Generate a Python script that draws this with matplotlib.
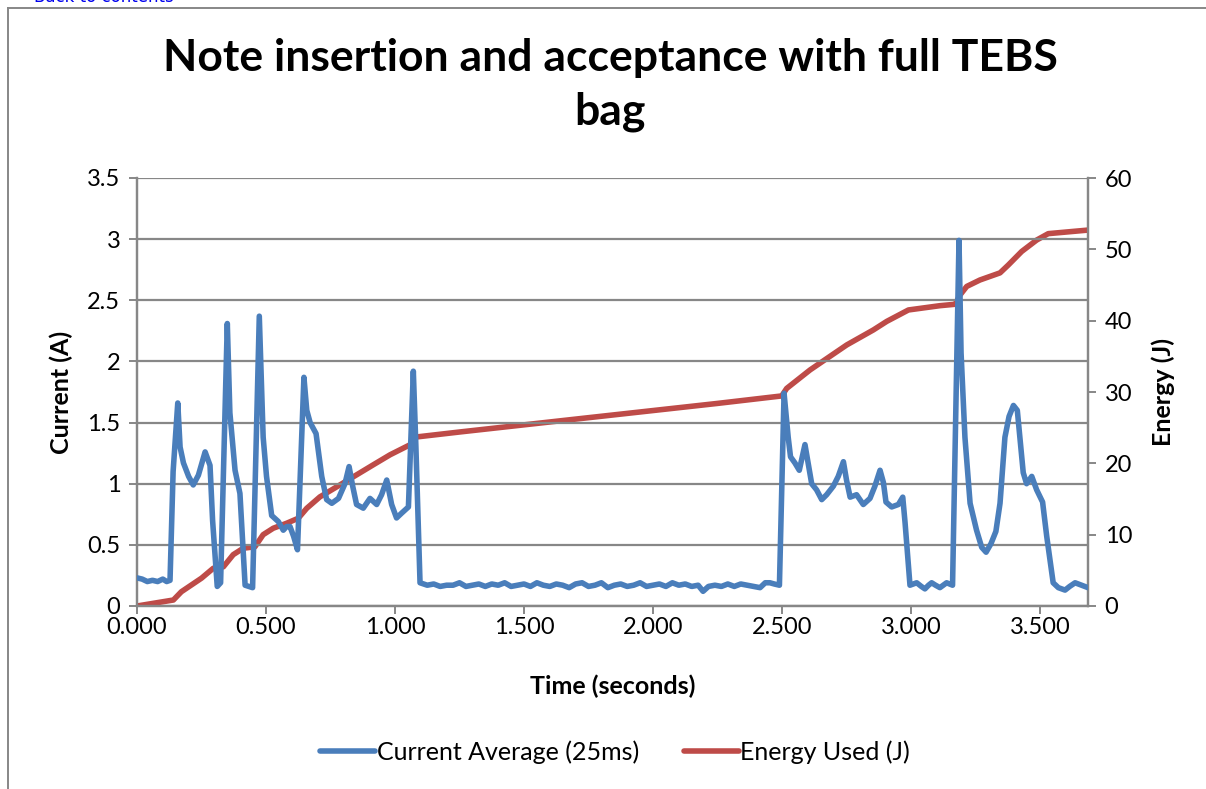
import numpy as np
import matplotlib
matplotlib.use("Agg")
import matplotlib.pyplot as plt
from matplotlib.ticker import MultipleLocator, FormatStrFormatter

plt.rcParams['font.family'] = ['Lato', 'DejaVu Sans']

TITLE = "Note insertion and acceptance with full TEBS\nbag"

# current average (25ms)
cur_t = [0.000, 0.020, 0.040, 0.060, 0.080, 0.100, 0.115, 0.128, 0.140, 0.158, 0.167, 0.180,
         0.200, 0.218, 0.238, 0.264, 0.283, 0.293, 0.311, 0.324, 0.350, 0.360, 0.380, 0.399,
         0.419, 0.448, 0.474, 0.489, 0.502, 0.522, 0.548, 0.567, 0.580, 0.593, 0.607, 0.622,
         0.647, 0.658, 0.671, 0.694, 0.716, 0.735, 0.755, 0.781, 0.806, 0.822, 0.836, 0.851,
         0.877, 0.903, 0.929, 0.948, 0.968, 0.987, 1.006, 1.026, 1.052, 1.071, 1.081, 1.097,
         1.125, 1.150, 1.175, 1.200, 1.225, 1.250, 1.275, 1.300, 1.325, 1.350, 1.375, 1.400,
         1.425, 1.450, 1.475, 1.500, 1.525, 1.550, 1.575, 1.600, 1.625, 1.650, 1.675, 1.700,
         1.725, 1.750, 1.775, 1.800, 1.825, 1.850, 1.875, 1.900, 1.925, 1.950, 1.975, 2.000,
         2.025, 2.050, 2.075, 2.100, 2.125, 2.150, 2.175, 2.194, 2.215, 2.240, 2.265, 2.290,
         2.315, 2.340, 2.365, 2.390, 2.415, 2.435, 2.453, 2.470, 2.490, 2.508, 2.524, 2.533,
         2.550, 2.567, 2.589, 2.606, 2.615, 2.634, 2.654, 2.673, 2.699, 2.718, 2.738, 2.750,
         2.764, 2.789, 2.815, 2.841, 2.860, 2.880, 2.893, 2.903, 2.925, 2.951, 2.968, 2.977,
         2.996, 3.022, 3.040, 3.054, 3.068, 3.080, 3.095, 3.112, 3.138, 3.161, 3.186, 3.194,
         3.209, 3.229, 3.254, 3.274, 3.291, 3.310, 3.329, 3.345, 3.364, 3.380, 3.397, 3.412,
         3.422, 3.435, 3.448, 3.468, 3.487, 3.510, 3.526, 3.551, 3.571, 3.597, 3.615, 3.636,
         3.661, 3.686]
cur_a = [0.23, 0.22, 0.20, 0.21, 0.20, 0.22, 0.20, 0.21, 1.10, 1.66, 1.30, 1.17,
         1.06, 0.99, 1.07, 1.26, 1.15, 0.70, 0.16, 0.19, 2.31, 1.58, 1.11, 0.92,
         0.17, 0.15, 2.37, 1.38, 1.06, 0.74, 0.69, 0.62, 0.65, 0.65, 0.57, 0.46,
         1.87, 1.60, 1.50, 1.41, 1.06, 0.87, 0.84, 0.88, 1.00, 1.14, 0.98, 0.83,
         0.80, 0.88, 0.83, 0.91, 1.03, 0.83, 0.72, 0.76, 0.81, 1.92, 1.30, 0.19,
         0.17, 0.18, 0.16, 0.17, 0.17, 0.19, 0.16, 0.17, 0.18, 0.16, 0.18, 0.17,
         0.19, 0.16, 0.17, 0.18, 0.16, 0.19, 0.17, 0.16, 0.18, 0.17, 0.15, 0.18,
         0.19, 0.16, 0.17, 0.19, 0.15, 0.17, 0.18, 0.16, 0.17, 0.19, 0.16, 0.17,
         0.18, 0.16, 0.19, 0.17, 0.18, 0.16, 0.17, 0.12, 0.16, 0.17, 0.16, 0.18,
         0.16, 0.18, 0.17, 0.16, 0.15, 0.19, 0.19, 0.18, 0.17, 1.74, 1.38, 1.22,
         1.17, 1.11, 1.32, 1.11, 1.00, 0.95, 0.87, 0.91, 0.98, 1.06, 1.18, 1.03,
         0.89, 0.91, 0.83, 0.88, 0.98, 1.11, 1.01, 0.85, 0.81, 0.83, 0.89, 0.68,
         0.17, 0.19, 0.16, 0.14, 0.17, 0.19, 0.17, 0.15, 0.19, 0.17, 2.99, 2.07,
         1.38, 0.84, 0.62, 0.48, 0.44, 0.51, 0.61, 0.84, 1.38, 1.55, 1.64, 1.60,
         1.38, 1.09, 1.00, 1.06, 0.95, 0.85, 0.57, 0.19, 0.15, 0.13, 0.16, 0.19,
         0.17, 0.15]

# energy used (J)
en_t = [0.000, 0.141, 0.172, 0.250, 0.296, 0.335, 0.373, 0.412, 0.457, 0.489, 0.528, 0.580,
        0.625, 0.658, 0.709, 0.774, 0.838, 0.916, 0.981, 1.058, 1.084, 1.252, 1.750, 2.250,
        2.499, 2.518, 2.609, 2.686, 2.751, 2.854, 2.906, 2.990, 3.112, 3.171, 3.190, 3.216,
        3.267, 3.345, 3.377, 3.429, 3.487, 3.532, 3.686]
en_j = [0.0, 0.84, 2.0, 3.9, 5.3, 5.5, 7.2, 8.1, 8.3, 10.0, 10.9, 11.6,
        12.3, 13.7, 15.3, 16.7, 18.1, 19.8, 21.2, 22.6, 23.7, 24.4, 26.4, 28.4,
        29.45, 30.5, 33.1, 35.0, 36.6, 38.7, 39.9, 41.5, 42.1, 42.3, 43.6, 44.8,
        45.7, 46.7, 47.8, 49.7, 51.3, 52.2, 52.7]

BLUE = "#4A7EBB"
RED = "#BE4B48"
GRID = "#878787"

fig = plt.figure(figsize=(12.06, 7.89), dpi=100)
ax = fig.add_axes([137 / 1206, 1 - 606 / 789, (1088 - 137) / 1206, (606 - 178) / 789])
ax2 = ax.twinx()

l1, = ax.plot(cur_t, cur_a, color=BLUE, lw=4.0, solid_joinstyle="round", solid_capstyle="round",
              label="Current Average (25ms)", zorder=3)
l2, = ax2.plot(en_t, en_j, color=RED, lw=4.0, solid_joinstyle="round", solid_capstyle="round",
               label="Energy Used (J)", zorder=3)
ax.set_zorder(ax2.get_zorder() + 1)
ax.patch.set_visible(False)

ax.set_xlim(0, 3.686)
ax.set_ylim(0, 3.5)
ax2.set_ylim(0, 60)
ax.xaxis.set_major_locator(MultipleLocator(0.5))
ax.xaxis.set_major_formatter(FormatStrFormatter("%.3f"))
ax.yaxis.set_major_locator(MultipleLocator(0.5))
ax.yaxis.set_major_formatter(plt.FuncFormatter(lambda v, p: f"{v:g}"))
ax2.yaxis.set_major_locator(MultipleLocator(10))

ax.grid(axis="y", color=GRID, lw=1.6)
for a in (ax, ax2):
    for s in a.spines.values():
        s.set_color(GRID)
        s.set_linewidth(1.6)
    a.spines["top"].set_visible(False)
    a.tick_params(colors=GRID, labelcolor="black", width=1.4, length=6, labelsize=17, pad=6)
ax.tick_params(axis="x", pad=2)

ax.set_xlabel("Time (seconds)", fontsize=18, fontweight="bold", labelpad=26)
ax.set_ylabel("Current (A)", fontsize=18, fontweight="bold", labelpad=10)
ax2.set_ylabel("Energy (J)", fontsize=18, fontweight="bold", labelpad=14)

fig.suptitle(TITLE, x=0.506, y=0.952, fontsize=32, fontweight="bold", linespacing=1.42)

fig.legend(handles=[l1, l2], loc="center", bbox_to_anchor=(0.51, 1 - 752 / 789), ncol=2,
           frameon=False, fontsize=18, handlelength=2.2, handletextpad=0.05, columnspacing=1.8)

# page frame and cut-off link text
fig.add_artist(plt.Line2D([8 / 1206, 1], [1 - 8 / 789, 1 - 8 / 789], color=GRID, lw=1.4,
                          transform=fig.transFigure))
fig.add_artist(plt.Line2D([8 / 1206, 8 / 1206], [0, 1 - 8 / 789], color=GRID, lw=1.4,
                          transform=fig.transFigure))
fig.text(34 / 1206, 1 + 3 / 789, "Back to contents", color="#0000EE", fontsize=12,
         family="DejaVu Sans", va="center")

fig.savefig("out.png", dpi=100)
